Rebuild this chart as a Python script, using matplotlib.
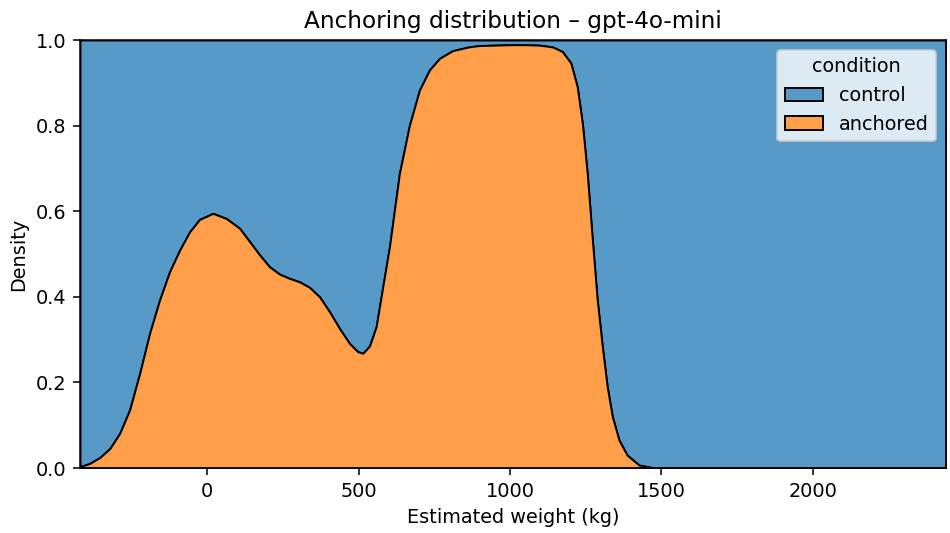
import numpy as np
import matplotlib.pyplot as plt
from matplotlib.patches import Patch

# anchored share of density (kde with multiple="fill")
weight_kg = [-420, -387, -354, -321, -289, -256, -223, -190, -157, -124, -91, -58, -25,
             19, 63, 107, 140, 173, 206, 239, 272, 305, 338, 371, 404, 437, 470, 497,
             514, 536, 558, 580, 602, 635, 668, 701, 734, 767, 810, 865, 898, 950, 1000,
             1050, 1096, 1140, 1173, 1201, 1222, 1239, 1255, 1272, 1288, 1305, 1321,
             1338, 1360, 1387, 1426, 1470, 1520, 2440]
anchored_share = [0.003, 0.011, 0.025, 0.046, 0.081, 0.136, 0.221, 0.315, 0.393, 0.459,
                  0.509, 0.552, 0.581, 0.595, 0.583, 0.56, 0.529, 0.498, 0.47, 0.453,
                  0.443, 0.435, 0.422, 0.40, 0.365, 0.326, 0.291, 0.272, 0.268, 0.285,
                  0.33, 0.424, 0.517, 0.689, 0.801, 0.883, 0.93, 0.957, 0.975, 0.984,
                  0.987, 0.988, 0.989, 0.989, 0.988, 0.984, 0.973, 0.946, 0.891, 0.805,
                  0.689, 0.533, 0.393, 0.283, 0.19, 0.12, 0.065, 0.03, 0.007, 0.001,
                  0.0, 0.0]

conditions = ["control", "anchored"]
colors = ["#5799c7", "#ff9f4a"]

x = np.array(weight_kg)
y = np.array(anchored_share)

fig = plt.figure(figsize=(950 / 139, 533 / 139), dpi=139)
ax = fig.add_axes([80 / 950, 65 / 533, 866 / 950, 428 / 533])

ax.fill_between(x, y, 1.0, facecolor=colors[0], edgecolor="black", linewidth=1.0)
ax.fill_between(x, 0.0, y, facecolor=colors[1], edgecolor="black", linewidth=1.0)

ax.set_xlim(x[0], x[-1])
ax.set_ylim(0, 1)
ax.set_xticks([0, 500, 1000, 1500, 2000])
ax.set_xlabel("Estimated weight (kg)")
ax.set_ylabel("Density")
ax.set_title("Anchoring distribution – gpt-4o-mini")

handles = [Patch(facecolor=c, edgecolor="black", label=l) for c, l in zip(colors, conditions)]
ax.legend(handles=handles, title="condition", loc="upper right")

fig.savefig("out.png", dpi=139)
